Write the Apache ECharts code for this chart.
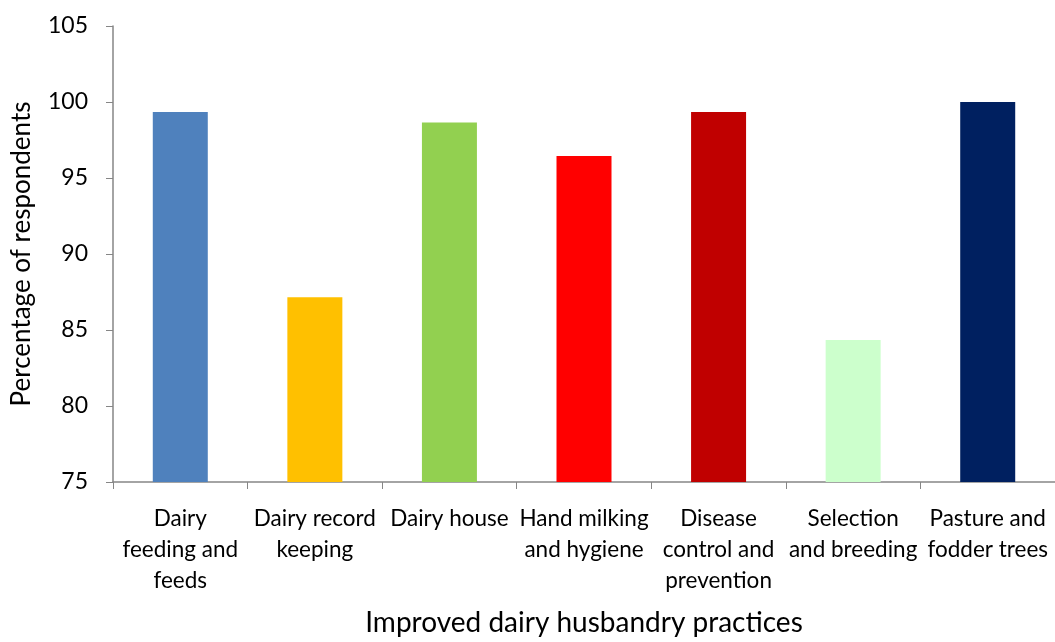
<!DOCTYPE html>
<html>
<head>
<meta charset="utf-8">
<script src="https://cdn.jsdelivr.net/npm/echarts@6/dist/echarts.min.js"></script>
<style>
  html, body { margin: 0; padding: 0; background: #fff; }
  #chart { width: 1055px; height: 642px; }
</style>
</head>
<body>
<div id="chart"></div>
<script>
var practices = [
    'Dairy\nfeeding and\nfeeds',
    'Dairy record\nkeeping',
    'Dairy house',
    'Hand milking\nand hygiene',
    'Disease\ncontrol and\nprevention',
    'Selection\nand breeding',
    'Pasture and\nfodder trees'
];
var percentages = [99.35, 87.15, 98.65, 96.45, 99.35, 84.35, 100];
var barColors = ['#4F81BD', '#FFC000', '#92D050', '#FF0000', '#C00000', '#CCFFCC', '#002060'];
var yTicks = { min: 75, max: 105, step: 5 };

var font = 'Lato, "Open Sans", sans-serif';
var axisGray = '#868686';

var chart = echarts.init(document.getElementById('chart'));
chart.setOption({
    animation: false,
    grid: { left: 113, right: -1, top: 26, bottom: 151 },
    xAxis: {
        type: 'category',
        data: practices,
        name: 'Improved dairy husbandry practices',
        nameLocation: 'middle',
        nameGap: 127,
        nameTextStyle: { fontFamily: font, fontSize: 28, color: '#000' },
        axisLine: { lineStyle: { color: axisGray, width: 1.5 } },
        axisTick: { show: true, length: 7, lineStyle: { color: axisGray } },
        axisLabel: {
            interval: 0, margin: 21, fontFamily: font, fontSize: 22.5,
            color: '#000', lineHeight: 31
        }
    },
    yAxis: {
        type: 'value',
        min: yTicks.min, max: yTicks.max, interval: yTicks.step,
        name: 'Percentage of respondents',
        nameLocation: 'middle',
        nameGap: 78,
        nameTextStyle: { fontFamily: font, fontSize: 26, color: '#000' },
        splitLine: { show: false },
        axisLine: { show: true, lineStyle: { color: axisGray, width: 1.5 } },
        axisTick: { show: true, length: 7, lineStyle: { color: axisGray } },
        axisLabel: { margin: 25, fontFamily: font, fontSize: 23, color: '#000' }
    },
    series: [{
        type: 'bar',
        barWidth: 55,
        data: percentages.map(function (v, i) {
            return { value: v, itemStyle: { color: barColors[i] } };
        })
    }]
});
</script>
</body>
</html>
